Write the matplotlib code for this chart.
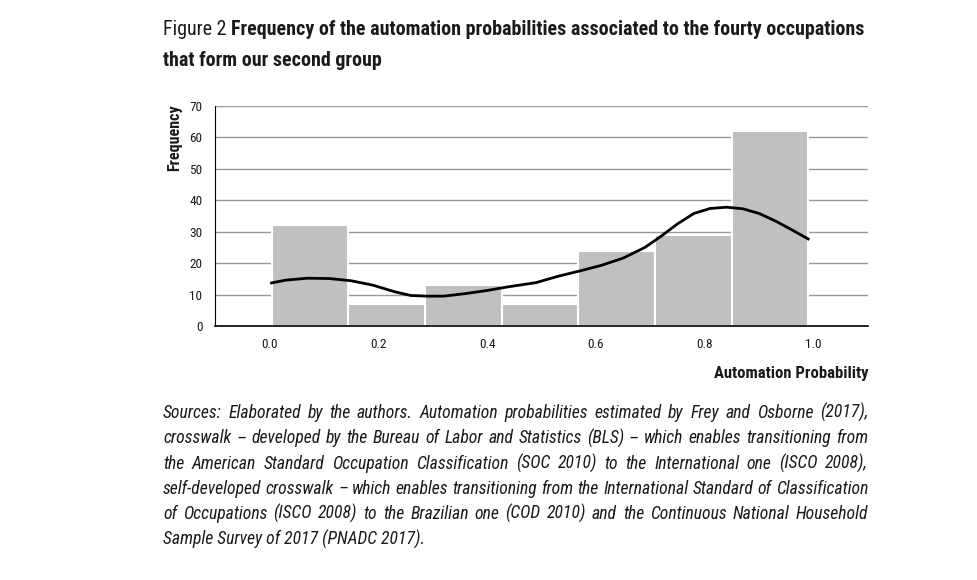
import numpy as np
import matplotlib
matplotlib.use("Agg")
import matplotlib.pyplot as plt

# histogram bins (automation probability) and frequencies
bin_edges = [0.004, 0.1449, 0.2858, 0.4267, 0.5676, 0.7085, 0.8494, 0.99]
freq = [32, 7, 13, 7, 24, 29, 62]

# smoothed density curve
kde_x = [0.004, 0.03, 0.07, 0.11, 0.15, 0.19, 0.23, 0.26, 0.29, 0.32, 0.36, 0.40,
         0.44, 0.49, 0.53, 0.57, 0.61, 0.65, 0.69, 0.72, 0.75, 0.78, 0.81, 0.84,
         0.87, 0.90, 0.93, 0.96, 0.99]
kde_y = [13.7, 14.6, 15.2, 15.1, 14.4, 13.0, 10.9, 9.7, 9.5, 9.5, 10.3, 11.3,
         12.5, 13.8, 15.8, 17.5, 19.3, 21.6, 25.0, 28.6, 32.5, 35.8, 37.4, 37.8,
         37.3, 35.8, 33.4, 30.6, 27.7]

yticks = [0, 10, 20, 30, 40, 50, 60, 70]
xticks = [0.0, 0.2, 0.4, 0.6, 0.8, 1.0]

title_a = "Figure 2 "
title_b = "Frequency of the automation probabilities associated to the fourty occupations"
title_c = "that form our second group"
caption = [
    "Sources: Elaborated by the authors. Automation probabilities estimated by Frey and Osborne (2017),",
    "crosswalk \u2013 developed by the Bureau of Labor and Statistics (BLS) \u2013 which enables transitioning from",
    "the American Standard Occupation Classification (SOC 2010) to the International one (ISCO 2008),",
    "self-developed crosswalk \u2013 which enables transitioning from the International Standard of Classification",
    "of Occupations (ISCO 2008) to the Brazilian one (COD 2010) and the Continuous National Household",
    "Sample Survey of 2017 (PNADC 2017).",
]

FONT = ["Roboto Condensed", "DejaVu Sans"]
plt.rcParams["font.family"] = FONT
plt.rcParams["font.stretch"] = "condensed"
INK = "#1a1a1a"

W, H = 977, 580
fig = plt.figure(figsize=(W / 100, H / 100), dpi=100)
ax = fig.add_axes([215 / W, 1 - 326 / H, 653 / W, 220 / H])

widths = np.diff(bin_edges)
ax.bar(bin_edges[:-1], freq, width=widths, align="edge", color="#c0c0c0",
       edgecolor="white", linewidth=1.5, zorder=2)
ax.plot(kde_x, kde_y, color="black", linewidth=2, zorder=3)

ax.set_xlim(-0.1, 1.1)
ax.set_ylim(0, 70)
ax.set_yticks(yticks)
ax.set_xticks(xticks)
ax.set_xticklabels([f"{t:.1f}" for t in xticks])
ax.tick_params(length=0, labelsize=9.5, colors=INK)
ax.tick_params(axis="x", pad=9)
ax.tick_params(axis="y", pad=9)
ax.grid(axis="y", color="#999999", linewidth=1, zorder=1)
ax.set_axisbelow(True)
for s in ["top", "right"]:
    ax.spines[s].set_visible(False)
ax.spines["left"].set_linewidth(0.8)
ax.spines["bottom"].set_linewidth(1.2)

ax.set_ylabel("Frequency", fontsize=11.5, fontweight="bold", color=INK)
ax.yaxis.set_label_coords(-0.05, 0.855)
ax.set_xlabel("Automation Probability", fontsize=12, fontweight="bold", color=INK,
              ha="right", va="center")
ax.xaxis.set_label_coords(1.0, -0.218)

fig.canvas.draw()
rend = fig.canvas.get_renderer()


def width_of(txt):
    return txt.get_window_extent(rend).width


# title: regular prefix + bold text, sized so line 1 spans the reference width
left = 163
base = 14
ta = fig.text(left / W, 1 - 35 / H, title_a, fontsize=base, va="baseline", color=INK)
tb = fig.text(0, 1 - 35 / H, title_b, fontsize=base, fontweight="bold", va="baseline", color=INK)
scale = 703 / (width_of(ta) + width_of(tb))
ta.set_fontsize(base * scale)
tb.set_fontsize(base * scale)
tb.set_x((left + width_of(ta)) / W)
fig.text(left / W, 1 - 66 / H, title_c, fontsize=base * scale, fontweight="bold",
         va="baseline", color=INK)

# caption: justified italic lines between x=163 and x=868
right = 868
cap_size = 12
probe = fig.text(0, 0, caption[3], fontsize=cap_size, style="italic")
cap_size = cap_size * (right - left) / width_of(probe) * 0.995
probe.remove()
for i, line in enumerate(caption):
    y = 1 - (418 + i * 25.3) / H
    if i == len(caption) - 1:
        fig.text(left / W, y, line, fontsize=cap_size, style="italic", va="baseline", color=INK)
        continue
    words = line.split(" ")
    texts = [fig.text(0, y, w, fontsize=cap_size, style="italic", va="baseline", color=INK)
             for w in words]
    ws = [width_of(t) for t in texts]
    gap = (right - left - sum(ws)) / (len(words) - 1)
    x = left
    for t, w in zip(texts, ws):
        t.set_x(x / W)
        x += w + gap

fig.savefig("out.png", dpi=100)
